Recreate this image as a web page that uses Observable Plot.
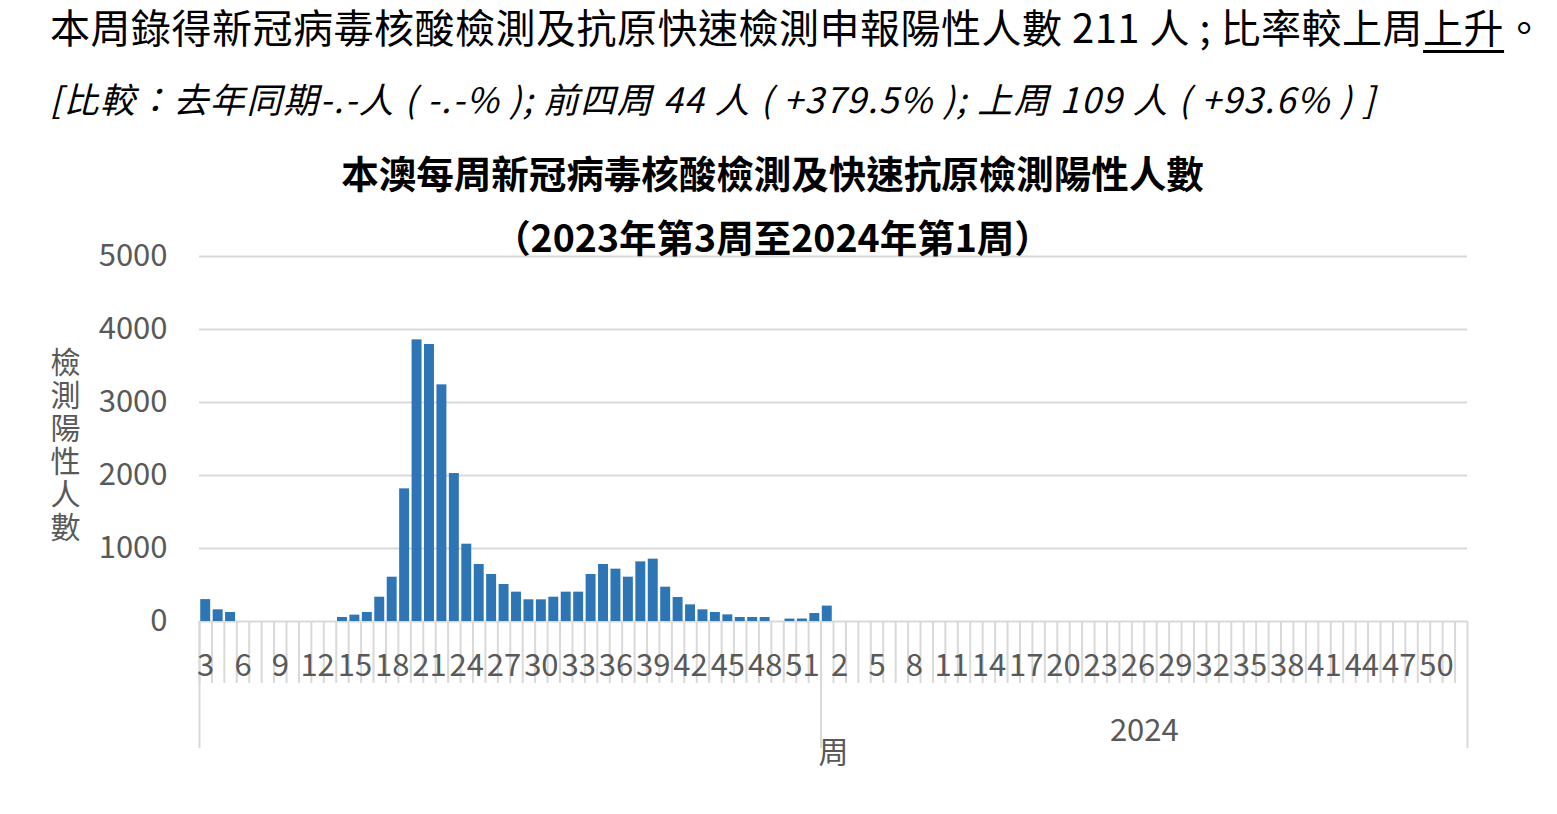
<!DOCTYPE html>
<html><head><meta charset="utf-8">
<script src="https://cdn.jsdelivr.net/npm/d3@7"></script>
<script src="https://cdn.jsdelivr.net/npm/@observablehq/plot@0.6"></script>
<style>
body{margin:0;background:#fff;}
#wrap{position:relative;width:1557px;height:814px;overflow:hidden;background:#fff;font-family:"Noto Sans CJK TC","Noto Sans",sans-serif;}
.h1{position:absolute;left:50px;top:3px;font-size:40px;line-height:46px;letter-spacing:0.5px;color:#000;white-space:nowrap;}
.h1 u{text-decoration-thickness:3px;text-underline-offset:7px;}
.h2{position:absolute;left:50px;top:75px;font-size:35px;line-height:46px;letter-spacing:1.6px;font-style:italic;color:#000;white-space:nowrap;}
.t{position:absolute;left:0;width:1545px;text-align:center;font-weight:bold;font-size:37.5px;line-height:44px;color:#000;white-space:nowrap;z-index:2;}
#chart{position:absolute;left:0;top:140px;}
</style></head>
<body><div id="wrap">
<div class="h1">本周錄得新冠病毒核酸檢測及抗原快速檢測申報陽性人數 211 人 ; 比率較上周<u>上升</u>。</div>
<div class="h2">[比較：去年同期-.-人 ( -.-% ); 前四周 44 人 ( +379.5% ); 上周 109 人 ( +93.6% ) ]</div>
<div class="t" style="top:150px">本澳每周新冠病毒核酸檢測及快速抗原檢測陽性人數</div>
<div class="t" style="top:214px">（2023年第3周至2024年第1周）</div>
<div id="chart"></div>
</div>
<script>
// categories
const weeks2023 = d3.range(3, 53);   // 2023 week 3..52
const weeks2024 = d3.range(1, 53);   // 2024 week 1..52
// series values (positives per week)
const values2023 = [300,160,123,0,0,0,0,0,0,0,0,55,87,123,333,607,1817,3858,3795,3242,2027,1059,781,644,507,402,297,297,333,402,402,644,781,717,607,817,854,470,329,228,160,123,91,55,55,55,0,33,34,109];
const values2024 = [211];
const yTicks = [0,1000,2000,3000,4000,5000];
const yearLabel2024 = "2024";
const yLabel = "檢測陽性人數";
const xLabel = "周";

const cats = [...weeks2023.map(w => "2023-" + w), ...weeks2024.map(w => "2024-" + w)];
const data = [
  ...values2023.map((v, i) => ({key: "2023-" + weeks2023[i], v})),
  ...values2024.map((v, i) => ({key: "2024-" + weeks2024[i], v}))
];
const labelCats = cats.filter((d, i) => i % 3 === 0);
const yearStarts = ["2023-" + weeks2023[0], "2024-" + weeks2024[0]];
const lastCat = cats[cats.length - 1];
const mid2024 = "2024-" + weeks2024[Math.floor(weeks2024.length / 2)];

const W = 1557, H = 674, ML = 199, MR = 90, MT = 116, MB = 193;
const step = (W - ML - MR) / cats.length;
const font = "'Noto Sans CJK TC','Noto Sans',sans-serif";
const grey = "#d9d9d9", txt = "#595959";

const chart = Plot.plot({
  width: W, height: H,
  marginLeft: ML, marginRight: MR, marginTop: MT, marginBottom: MB,
  style: {fontFamily: font, fontSize: "31px", background: "transparent", overflow: "visible"},
  x: {type: "band", domain: cats, paddingInner: 0.2, paddingOuter: 0.1, axis: null},
  y: {domain: [0, 5000], axis: null},
  marks: [
    Plot.gridY(yTicks, {stroke: grey, strokeOpacity: 1, strokeWidth: 2}),
    Plot.axisY(yTicks, {tickSize: 0, tickPadding: 32, fontSize: 31, fill: txt, label: null, tickFormat: d => String(d)}),
    Plot.axisX(cats, {tickSize: 62, stroke: grey, strokeWidth: 2, strokeOpacity: 1, dx: -step / 2, tickFormat: () => "", label: null}),
    Plot.axisX(yearStarts, {tickSize: 127, stroke: grey, strokeWidth: 2, strokeOpacity: 1, dx: -step / 2, tickFormat: () => "", label: null}),
    Plot.axisX([lastCat], {tickSize: 127, stroke: grey, strokeWidth: 2, strokeOpacity: 1, dx: step / 2, tickFormat: () => "", label: null}),
    Plot.axisX(labelCats, {tickSize: 0, tickPadding: 32, fontSize: 31, fill: txt, tickFormat: k => k.split("-")[1], label: null}),
    Plot.axisX([mid2024], {tickSize: 0, tickPadding: 97, dx: -step / 2, fontSize: 31, fill: txt, tickFormat: () => yearLabel2024, label: null}),
    Plot.barY(data, {x: "key", y: "v", fill: "#2e75b6"}),
    Plot.text([yLabel], {frameAnchor: "left", textAnchor: "middle", dx: -134, dy: 6, text: d => d.split("").join("\n"), lineHeight: 1.1, fontSize: 30, fill: txt}),
    Plot.text([xLabel], {frameAnchor: "bottom", dy: 141, fontSize: 30, fill: txt})
  ]
});
document.getElementById("chart").appendChild(chart);
</script>
</body></html>
